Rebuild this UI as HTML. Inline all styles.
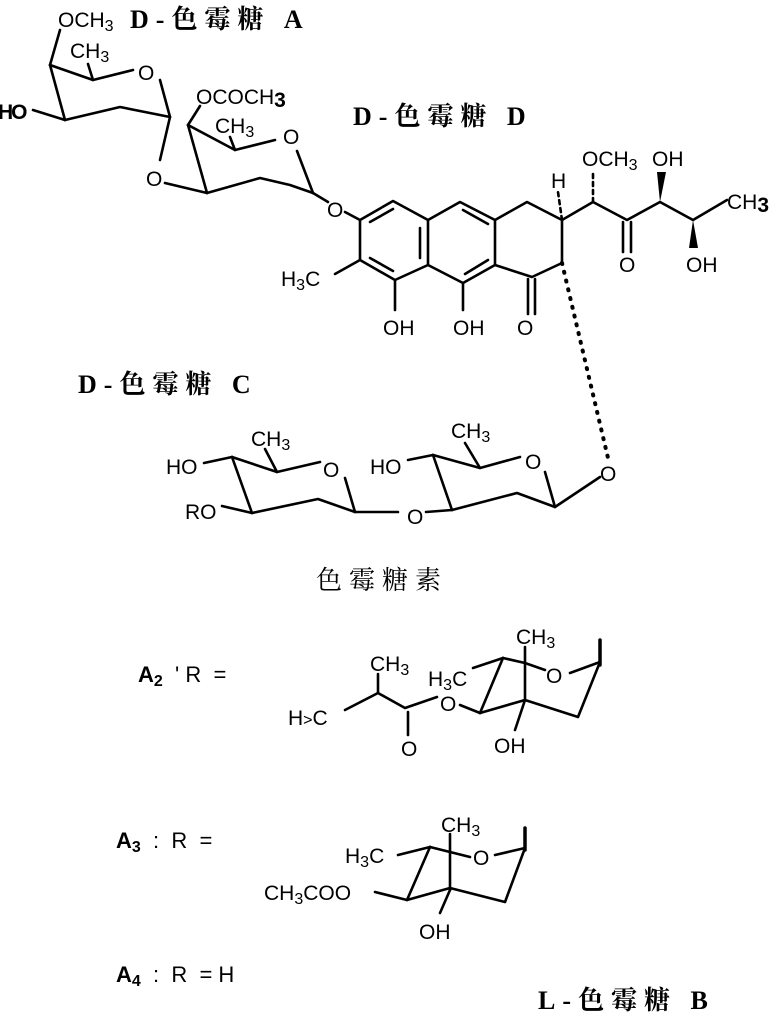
<!DOCTYPE html>
<html><head><meta charset="utf-8"><style>
html,body{margin:0;padding:0;background:#fff;}
svg{display:block;}
text{font-family:"Liberation Sans","Noto Sans CJK SC",sans-serif;font-size:21px;fill:#000;white-space:pre;}
.s{font-family:"Liberation Serif","Noto Serif CJK SC",serif;font-size:26px;font-weight:bold;letter-spacing:7px;}
.b{font-weight:bold;}
line,polyline,path{stroke:#000;stroke-width:2.6;fill:none;stroke-linecap:round;stroke-linejoin:round;}
.sub{font-size:16px;}
</style></head><body>
<svg width="781" height="1016" viewBox="0 0 781 1016" xmlns="http://www.w3.org/2000/svg" xml:space="preserve">
<text x="58" y="27">OCH<tspan class="sub" dy="4">3</tspan></text>
<text class="s" x="130" y="28">D-色霉糖 A</text>
<text class="s" x="353" y="125">D-色霉糖 D</text>
<text class="s" x="78" y="393">D-色霉糖 C</text>
<text class="s" x="316" y="589" style="font-weight:normal">色霉糖素</text>
<text class="s" x="538" y="1009">L-色霉糖 B</text>

<line x1="60" y1="30" x2="50" y2="65"/>
<polyline points="50,65 93,80 133,70"/>
<line x1="50" y1="65" x2="65" y2="120"/>
<polyline points="65,120 120,107 170,117"/>
<line x1="160" y1="80" x2="170" y2="117"/>
<text x="138" y="80">O</text>
<text class="b" x="-2" y="119" style="letter-spacing:-2px">HO</text>
<line x1="33" y1="110" x2="65" y2="120"/>
<text x="70" y="58">CH<tspan class="sub" dy="4">3</tspan></text>
<line x1="88" y1="64" x2="93" y2="80"/>
<line x1="170" y1="117" x2="160" y2="160"/>
<text x="146" y="186">O</text>
<line x1="165" y1="183" x2="207" y2="193"/>
<text x="196" y="104">OCOCH<tspan class="b" dy="3">3</tspan></text>
<line x1="200" y1="106" x2="188" y2="125"/>
<polyline points="188,125 235,150 275,140"/>
<line x1="188" y1="125" x2="207" y2="193"/>
<polyline points="207,193 260,178 290,185 313,193"/>
<text x="283" y="144">O</text>
<line x1="297" y1="151" x2="313" y2="193"/>
<text x="215" y="133">CH<tspan class="sub" dy="4">3</tspan></text>
<line x1="230" y1="137" x2="235" y2="150"/>
<line x1="313" y1="193" x2="328" y2="202"/>
<text x="327" y="217">O</text>
<line x1="345" y1="212" x2="360" y2="220"/>

<polygon points="360,220 393,201 428,220 428,265 395,280 360,260" style="fill:none;stroke:#000;stroke-width:2.6;stroke-linejoin:round"/>
<polyline points="428,220 460,202 495,220 495,265 463,283 428,265"/>
<polyline points="495,220 527,202 562,220 562,263 532,277 495,265"/>
<line x1="370" y1="222" x2="393" y2="209"/>
<line x1="420" y1="228" x2="420" y2="258"/>
<line x1="370" y1="258" x2="393" y2="271"/>
<line x1="463" y1="210" x2="488" y2="224"/>
<line x1="488" y1="260" x2="465" y2="274"/>
<line x1="395" y1="280" x2="395" y2="310"/>
<line x1="463" y1="283" x2="463" y2="310"/>
<line x1="528" y1="279" x2="528" y2="314"/>
<line x1="535" y1="279" x2="535" y2="314"/>
<text x="383" y="335">OH</text>
<text x="453" y="335">OH</text>
<text x="517" y="335">O</text>
<text x="281" y="286">H<tspan class="sub" dy="4">3</tspan><tspan dy="-4">C</tspan></text>
<line x1="360" y1="260" x2="335" y2="274"/>
<text x="551" y="188">H</text>
<line x1="562" y1="220" x2="558" y2="192" style="stroke-dasharray:4,4"/>
<polyline points="562,220 593,202 627,220 660,202 693,220 727,200"/>
<text x="727" y="209">CH<tspan class="b" dy="3">3</tspan></text>
<line x1="593" y1="202" x2="593" y2="170" style="stroke-dasharray:4,4"/>
<text x="582" y="166">OCH<tspan class="sub" dy="4">3</tspan></text>
<polygon points="660,202 657,172 666,172" style="fill:#000"/>
<text x="652" y="166">OH</text>
<line x1="623" y1="222" x2="623" y2="252"/>
<line x1="631" y1="222" x2="631" y2="252"/>
<text x="619" y="272">O</text>
<polygon points="693,220 689,248 698,248" style="fill:#000"/>
<text x="686" y="272">OH</text>
<line x1="562" y1="263" x2="608" y2="458" style="stroke-width:4;stroke-dasharray:1,8"/>

<text x="166" y="474">HO</text>
<line x1="204" y1="463" x2="232" y2="457"/>
<polyline points="232,457 277,472 320,462"/>
<text x="323" y="477">O</text>
<line x1="345" y1="478" x2="355" y2="512"/>
<line x1="232" y1="457" x2="252" y2="513"/>
<polyline points="252,513 318,499 355,512 398,512"/>
<text x="185" y="519">RO</text>
<line x1="222" y1="506" x2="252" y2="513"/>
<text x="251" y="446">CH<tspan class="sub" dy="4">3</tspan></text>
<line x1="265" y1="449" x2="277" y2="472"/>
<text x="407" y="524">O</text>
<line x1="426" y1="512" x2="452" y2="510"/>
<text x="370" y="474">HO</text>
<line x1="408" y1="460" x2="433" y2="455"/>
<polyline points="433,455 480,468 520,457"/>
<line x1="433" y1="455" x2="452" y2="510"/>
<polyline points="452,510 517,493 555,507 600,477"/>
<text x="525" y="469">O</text>
<line x1="545" y1="472" x2="555" y2="507"/>
<text x="600" y="481">O</text>
<text x="451" y="438">CH<tspan class="sub" dy="4">3</tspan></text>
<line x1="465" y1="443" x2="480" y2="468"/>

<text x="138" y="682" class="b" style="font-size:22px">A<tspan class="sub" dy="4">2</tspan><tspan dy="-4" style="font-weight:normal">  ' R  =</tspan></text>
<text x="288" y="725">H<tspan class="sub">&gt;</tspan>C</text>
<polyline points="345,710 378,693 405,708 437,697"/>
<line x1="378" y1="693" x2="378" y2="674"/>
<text x="370" y="671">CH<tspan class="sub" dy="4">3</tspan></text>
<line x1="408" y1="712" x2="408" y2="735"/>
<text x="401" y="756">O</text>
<text x="440" y="711">O</text>
<line x1="460" y1="705" x2="480" y2="713"/>
<line x1="480" y1="713" x2="503" y2="658"/>
<text x="428" y="686">H<tspan class="sub" dy="4">3</tspan><tspan dy="-4">C</tspan></text>
<line x1="473" y1="668" x2="503" y2="658"/>
<polyline points="503,658 525,663 545,670"/>
<text x="546" y="683">O</text>
<line x1="570" y1="673" x2="600" y2="662"/>
<line x1="600" y1="640" x2="600" y2="665" style="stroke-width:3.5"/>
<polyline points="600,662 578,717 525,700 480,713"/>
<line x1="525" y1="647" x2="525" y2="700"/>
<text x="516" y="644">CH<tspan class="sub" dy="4">3</tspan></text>
<line x1="525" y1="700" x2="515" y2="730"/>
<text x="494" y="753">OH</text>

<text x="116" y="848" class="b" style="font-size:22px">A<tspan class="sub" dy="4">3</tspan><tspan dy="-4" style="font-weight:normal">  :  R  =</tspan></text>
<text x="345" y="863">H<tspan class="sub" dy="4">3</tspan><tspan dy="-4">C</tspan></text>
<line x1="398" y1="855" x2="430" y2="847"/>
<polyline points="430,847 450,852 470,857"/>
<line x1="450" y1="834" x2="450" y2="890"/>
<text x="441" y="832">CH<tspan class="sub" dy="4">3</tspan></text>
<text x="473" y="865">O</text>
<line x1="495" y1="855" x2="525" y2="848"/>
<line x1="525" y1="828" x2="525" y2="850" style="stroke-width:3.5"/>
<polyline points="525,848 505,902 450,888 407,900 430,847"/>
<text x="264" y="900">CH<tspan class="sub" dy="4">3</tspan><tspan dy="-4">COO</tspan></text>
<line x1="375" y1="892" x2="407" y2="900"/>
<line x1="450" y1="890" x2="440" y2="913"/>
<text x="419" y="939">OH</text>

<text x="116" y="982" class="b" style="font-size:22px">A<tspan class="sub" dy="4">4</tspan><tspan dy="-4" style="font-weight:normal">  :  R  = H</tspan></text>
</svg>
</body></html>
